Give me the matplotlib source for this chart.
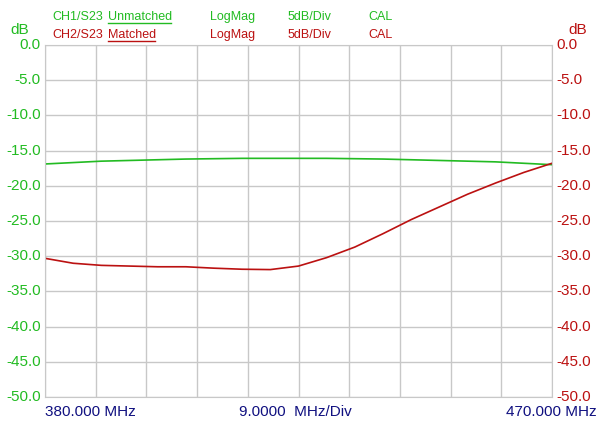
import matplotlib
matplotlib.use("Agg")
import matplotlib.pyplot as plt
from matplotlib.lines import Line2D
import numpy as np

plt.rcParams['font.family'] = ['Liberation Sans', 'DejaVu Sans']

freq_mhz = [380.0, 385.0, 390.0, 395.0, 400.0, 405.0, 410.0, 415.0, 420.0, 425.0,
            430.0, 435.0, 440.0, 445.0, 450.0, 455.0, 460.0, 465.0, 470.0]
s23_unmatched = [-16.9, -16.7, -16.5, -16.4, -16.3, -16.2, -16.15, -16.1, -16.1, -16.1,
                 -16.1, -16.15, -16.2, -16.3, -16.4, -16.5, -16.6, -16.8, -17.0]
s23_matched = [-30.3, -31.0, -31.3, -31.4, -31.5, -31.5, -31.7, -31.85, -31.9, -31.4,
               -30.2, -28.7, -26.8, -24.8, -23.0, -21.2, -19.6, -18.1, -16.8]

green = "#22bb22"
red = "#bb1111"
navy = "#101080"

fig = plt.figure(figsize=(6, 4.36), dpi=100)
ax = fig.add_axes([0.075, 0.0894, 0.845, 0.8074])
ax.plot(freq_mhz, s23_unmatched, color=green, lw=1.2)
ax.plot(freq_mhz, s23_matched, color=red, lw=1.2)
ax.set_xlim(380, 470)
ax.set_ylim(-50, 0)
ax.set_xticks(np.arange(380, 471, 9))
ax.set_yticks(np.arange(-50, 1, 5))
ax.grid(color="#c8c8c8", lw=1)
for s in ax.spines.values():
    s.set_color("#c8c8c8")
ax.tick_params(length=0, labelbottom=False, labelleft=False)

# tick labels on both sides
yt = np.arange(0, -51, -5)
for v in yt:
    ax.text(-0.008, (v + 50) / 50, f"{v:.1f}", transform=ax.transAxes, ha="right",
            va="center", color=green, fontsize=11)
    ax.text(1.008, (v + 50) / 50, f"{v:.1f}", transform=ax.transAxes, ha="left",
            va="center", color=red, fontsize=11)

fig.text(20 / 600, 1 - 30 / 436, "dB", color=green, fontsize=11, ha="center", va="center")
fig.text(578 / 600, 1 - 30 / 436, "dB", color=red, fontsize=11, ha="center", va="center")

# header rows
rows = [(17, green, "CH1/S23", "Unmatched"), (35, red, "CH2/S23", "Matched")]
for y, c, ch, name in rows:
    yy = 1 - y / 436
    fig.text(52 / 600, yy, ch, color=c, fontsize=9, va="center")
    fig.text(108 / 600, yy, name, color=c, fontsize=9, va="center")
    fig.text(210 / 600, yy, "LogMag", color=c, fontsize=9, va="center")
    fig.text(288 / 600, yy, "5dB/Div", color=c, fontsize=9, va="center")
    fig.text(368 / 600, yy, "CAL", color=c, fontsize=9, va="center")
    w = 63 if name == "Unmatched" else 47
    fig.add_artist(Line2D([108 / 600, (108 + w) / 600], [yy - 6 / 436] * 2, color=c, lw=1))

yb = 1 - 412 / 436
fig.text(90 / 600, yb, "380.000 MHz", color=navy, fontsize=11, ha="center", va="center")
fig.text(295 / 600, yb, "9.0000  MHz/Div", color=navy, fontsize=11, ha="center", va="center")
fig.text(597 / 600, yb, "470.000 MHz", color=navy, fontsize=11, ha="right", va="center")

fig.savefig("out.png", dpi=100)
